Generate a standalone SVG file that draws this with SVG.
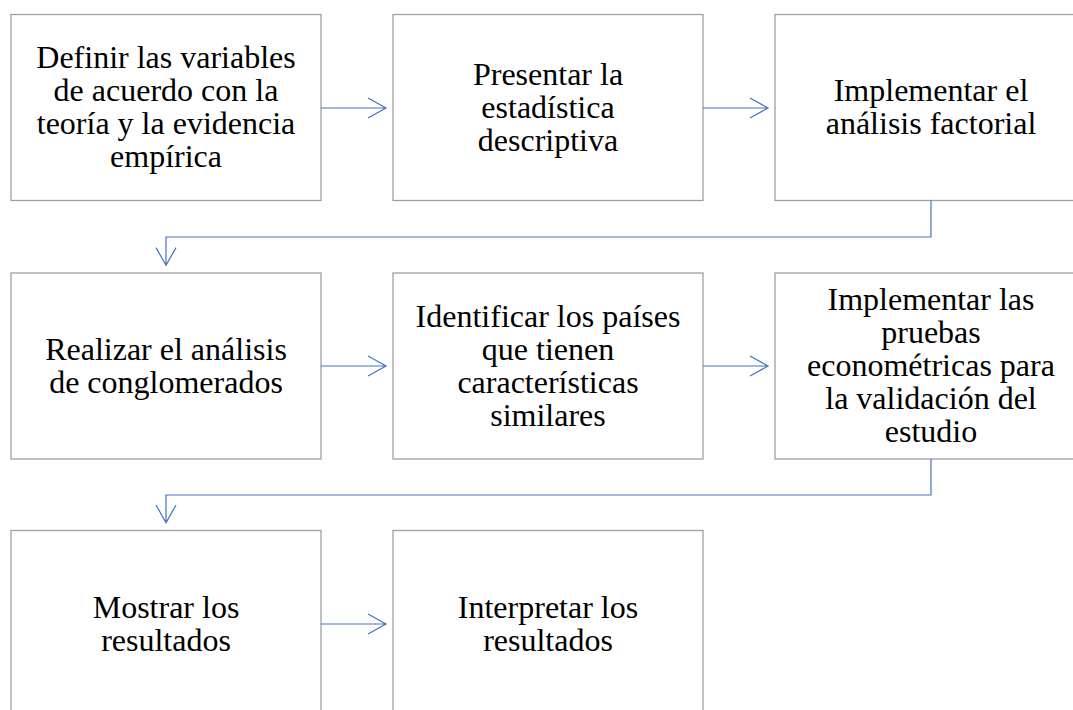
<svg xmlns="http://www.w3.org/2000/svg" width="1073" height="710" viewBox="0 0 1073 710">
<style>
.box{fill:#fff;stroke:#a0a0a0;stroke-width:1.3}
.t{font-family:"Liberation Serif","Times New Roman",serif;font-size:32px;fill:#000;text-anchor:middle}
.c{fill:none;stroke:#4472C4;stroke-width:1.2}
</style>
<rect width="1073" height="710" fill="#fff"/>
<g id="n1"><rect class="box" x="11" y="14.5" width="310" height="186"/>
<text class="t"><tspan x="166" y="68">Definir las variables</tspan><tspan x="166" y="101">de acuerdo con la</tspan><tspan x="166" y="134">teoría y la evidencia</tspan><tspan x="166" y="167">empírica</tspan></text></g>
<g id="n2"><rect class="box" x="393" y="14.5" width="310" height="186"/>
<text class="t"><tspan x="548" y="85">Presentar la</tspan><tspan x="548" y="118">estadística</tspan><tspan x="548" y="151">descriptiva</tspan></text></g>
<g id="n3"><rect class="box" x="775" y="14.5" width="312" height="186"/>
<text class="t"><tspan x="931" y="101">Implementar el</tspan><tspan x="931" y="134">análisis factorial</tspan></text></g>
<g id="n4"><rect class="box" x="11" y="273" width="310" height="186"/>
<text class="t"><tspan x="166" y="360">Realizar el análisis</tspan><tspan x="166" y="393">de conglomerados</tspan></text></g>
<g id="n5"><rect class="box" x="393" y="273" width="310" height="186"/>
<text class="t"><tspan x="548" y="327">Identificar los países</tspan><tspan x="548" y="360">que tienen</tspan><tspan x="548" y="393">características</tspan><tspan x="548" y="426">similares</tspan></text></g>
<g id="n6"><rect class="box" x="775" y="273" width="312" height="186"/>
<text class="t"><tspan x="931" y="310">Implementar las</tspan><tspan x="931" y="343">pruebas</tspan><tspan x="931" y="376">econométricas para</tspan><tspan x="931" y="409">la validación del</tspan><tspan x="931" y="442">estudio</tspan></text></g>
<g id="n7"><rect class="box" x="11" y="530.5" width="310" height="190"/>
<text class="t"><tspan x="166" y="618">Mostrar los</tspan><tspan x="166" y="651">resultados</tspan></text></g>
<g id="n8"><rect class="box" x="393" y="530.5" width="310" height="190"/>
<text class="t"><tspan x="548" y="618">Interpretar los</tspan><tspan x="548" y="651">resultados</tspan></text></g>
<g id="connectors">
<path class="c" d="M321 108H386M368 98L386 108L368 118"/>
<path class="c" d="M703 108H768M750 98L768 108L750 118"/>
<path class="c" d="M931 200.5V237H166V265.3M156 247.6L166 265.3L176 247.6"/>
<path class="c" d="M321 366H386M368 356L386 366L368 376"/>
<path class="c" d="M703 366H768M750 356L768 366L750 376"/>
<path class="c" d="M931 459V495H166V522.7M156 505L166 522.7L176 505"/>
<path class="c" d="M321 624H386M368 614L386 624L368 634"/>
</g>
</svg>
